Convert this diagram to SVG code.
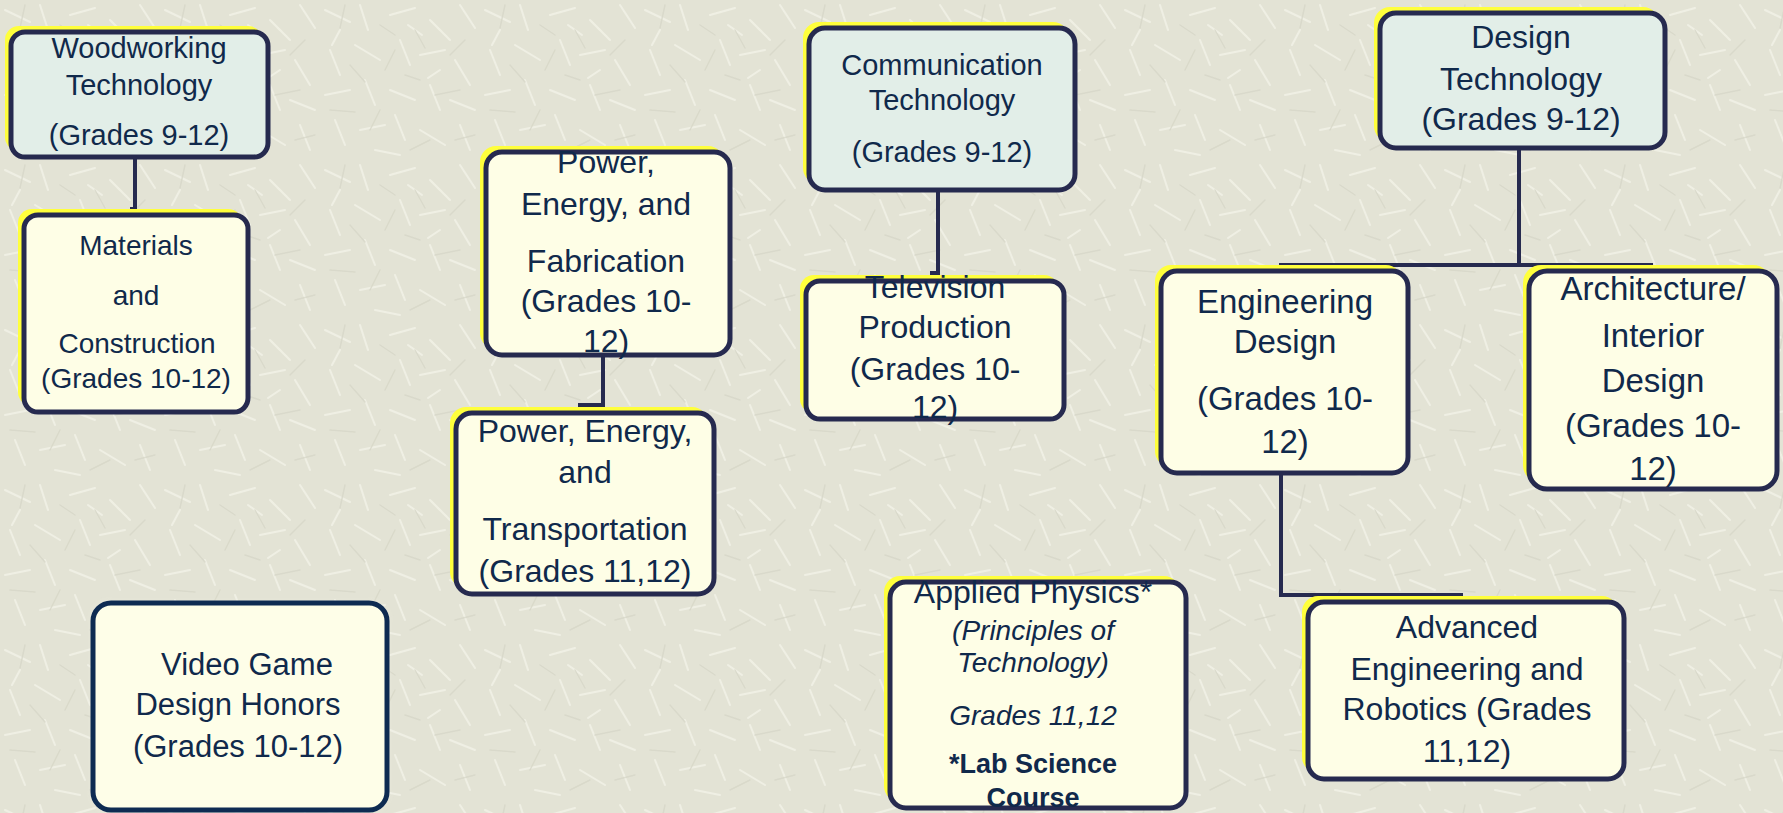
<svg xmlns="http://www.w3.org/2000/svg" width="1783" height="813" viewBox="0 0 1783 813">
<defs>
<pattern id="tex" width="160" height="160" patternUnits="userSpaceOnUse">
<rect width="160" height="160" fill="#e3e3d5"/>
<g stroke="#f1f1e6" stroke-width="2" stroke-linecap="round" opacity="0.9">
<path d="M5 10 L30 22 M40 5 L48 30 M70 15 L95 8 M110 20 L130 40 M140 5 L155 28 M10 50 L20 75 M35 45 L60 60 M80 40 L90 65 M100 55 L125 50 M135 60 L150 85 M5 95 L30 90 M45 80 L55 105 M70 90 L95 100 M110 85 L120 110 M130 100 L155 110 M15 120 L25 145 M40 130 L65 125 M75 115 L85 140 M100 130 L125 145 M140 125 L150 150 M55 150 L80 155 M20 30 L12 45 M88 25 L102 35 M120 70 L108 78"/>
</g>
<g stroke="#d7d7c8" stroke-width="1.5" stroke-linecap="round" opacity="0.8">
<path d="M25 5 L20 28 M60 25 L75 35 M95 30 L105 48 M145 40 L130 55 M30 65 L45 82 M65 70 L75 50 M115 95 L140 90 M10 110 L35 112 M60 110 L50 130 M90 150 L110 140 M135 140 L155 135 M85 75 L100 80"/>
</g>
</pattern>
<filter id="glow" x="-10%" y="-10%" width="120%" height="120%">
<feGaussianBlur stdDeviation="3"/>
</filter>
</defs>
<style>
.hl{fill:#ffff3c}
.top{fill:#e2eee8;stroke:#262a4f;stroke-width:5}
.sub{fill:#fefee6;stroke:#262a4f;stroke-width:5}
.vg{fill:#fefee8;stroke:#0e2b52;stroke-width:5}
text{font-family:"Liberation Sans",Arial,sans-serif;fill:#10294b;text-anchor:middle}
.f28{font-size:28px}
.f29{font-size:29px}
.f31{font-size:31px}
.f32{font-size:32px}
.f33{font-size:33px}
.i27{font-size:27px;font-style:italic}
.i28{font-size:28px;font-style:italic}
.bd{font-size:27px;font-weight:bold}
.conn{fill:none;stroke:#262a4f;stroke-width:4}
</style>
<rect width="1783" height="813" fill="url(#tex)"/>

<g id="connectors">
<path class="conn" d="M135 157 V209 H130"/>
<path class="conn" d="M603 355 V405 H578"/>
<path class="conn" d="M938 190 V273 H930"/>
<path class="conn" d="M1519 148 V265"/>
<path class="conn" d="M1279 265 H1653"/>
<path class="conn" d="M1281 473 V595 H1463"/>
</g>

<g id="woodworking">
<rect class="hl" x="5" y="26" width="257" height="125" rx="14"/>
<rect class="top" x="11" y="32" width="257" height="125" rx="14"/>
<text class="f29" x="139" y="58">Woodworking</text>
<text class="f29" x="139" y="95">Technology</text>
<text class="f29" x="139" y="145">(Grades 9-12)</text>
</g>

<g id="materials">
<rect class="hl" x="18" y="209" width="224" height="197" rx="14"/>
<rect class="sub" x="24" y="215" width="224" height="197" rx="14"/>
<text class="f28" x="136" y="255">Materials</text>
<text class="f28" x="136" y="305">and</text>
<text class="f28" x="137" y="353">Construction</text>
<text class="f28" x="136" y="388">(Grades 10-12)</text>
</g>

<g id="power-fabrication">
<rect class="hl" x="480" y="146" width="244" height="203" rx="16"/>
<rect class="sub" x="486" y="152" width="244" height="203" rx="16"/>
<text class="f32" x="606" y="173">Power,</text>
<text class="f32" x="606" y="215">Energy, and</text>
<text class="f32" x="606" y="272">Fabrication</text>
<text class="f32" x="606" y="312">(Grades 10-</text>
<text class="f32" x="606" y="352">12)</text>
</g>

<g id="power-transportation">
<rect class="hl" x="450" y="407" width="258" height="181" rx="16"/>
<rect class="sub" x="456" y="413" width="258" height="181" rx="16"/>
<text class="f32" x="585" y="442">Power, Energy,</text>
<text class="f32" x="585" y="483">and</text>
<text class="f32" x="585" y="540">Transportation</text>
<text class="f32" x="585" y="582">(Grades 11,12)</text>
</g>

<g id="communication">
<rect class="hl" x="803" y="22" width="266" height="162" rx="16"/>
<rect class="top" x="809" y="28" width="266" height="162" rx="16"/>
<text class="f29" x="942" y="75">Communication</text>
<text class="f29" x="942" y="110">Technology</text>
<text class="f29" x="942" y="162">(Grades 9-12)</text>
</g>

<g id="television">
<rect class="hl" x="800" y="275" width="258" height="138" rx="14"/>
<rect class="sub" x="806" y="281" width="258" height="138" rx="14"/>
<text class="f32" x="935" y="298">Television</text>
<text class="f32" x="935" y="338">Production</text>
<text class="f32" x="935" y="380">(Grades 10-</text>
<text class="f32" x="935" y="418">12)</text>
</g>

<g id="design-technology">
<rect class="hl" x="1374" y="7" width="285" height="135" rx="16"/>
<rect class="top" x="1380" y="13" width="285" height="135" rx="16"/>
<text class="f32" x="1521" y="48">Design</text>
<text class="f32" x="1521" y="90">Technology</text>
<text class="f32" x="1521" y="130">(Grades 9-12)</text>
</g>

<g id="engineering-design">
<rect class="hl" x="1155" y="265" width="247" height="202" rx="16"/>
<rect class="sub" x="1161" y="271" width="247" height="202" rx="16"/>
<text class="f33" x="1285" y="313">Engineering</text>
<text class="f33" x="1285" y="353">Design</text>
<text class="f33" x="1285" y="410">(Grades 10-</text>
<text class="f33" x="1285" y="453">12)</text>
</g>

<g id="architecture">
<rect class="hl" x="1523" y="265" width="248" height="218" rx="18"/>
<rect class="sub" x="1529" y="271" width="248" height="218" rx="18"/>
<text class="f33" x="1653" y="300">Architecture/</text>
<text class="f33" x="1653" y="347">Interior</text>
<text class="f33" x="1653" y="392">Design</text>
<text class="f33" x="1653" y="437">(Grades 10-</text>
<text class="f33" x="1653" y="480">12)</text>
</g>

<g id="advanced">
<rect class="hl" x="1302" y="596" width="316" height="177" rx="16"/>
<rect class="sub" x="1308" y="602" width="316" height="177" rx="16"/>
<text class="f32" x="1467" y="638">Advanced</text>
<text class="f32" x="1467" y="680">Engineering and</text>
<text class="f32" x="1467" y="720">Robotics (Grades</text>
<text class="f32" x="1467" y="762">11,12)</text>
</g>

<g id="applied-physics">
<rect class="hl" x="884" y="576" width="296" height="226" rx="16"/>
<rect class="sub" x="890" y="582" width="296" height="226" rx="16"/>
<text class="f32" x="1033" y="603">Applied Physics*</text>
<text class="i28" x="1033" y="640">(Principles of</text>
<text class="i28" x="1033" y="672">Technology)</text>
<text class="i28" x="1033" y="725">Grades 11,12</text>
<text class="bd" x="1033" y="773">*Lab Science</text>
<text class="bd" x="1033" y="807">Course</text>
</g>

<g id="video-game">
<rect x="93" y="603" width="294" height="207" rx="18" fill="#f4f4ea" filter="url(#glow)" opacity="0.8"/>
<rect class="vg" x="93" y="603" width="294" height="207" rx="18"/>
<text class="f31" x="247" y="675">Video Game</text>
<text class="f31" x="238" y="715">Design Honors</text>
<text class="f31" x="238" y="757">(Grades 10-12)</text>
</g>
</svg>
